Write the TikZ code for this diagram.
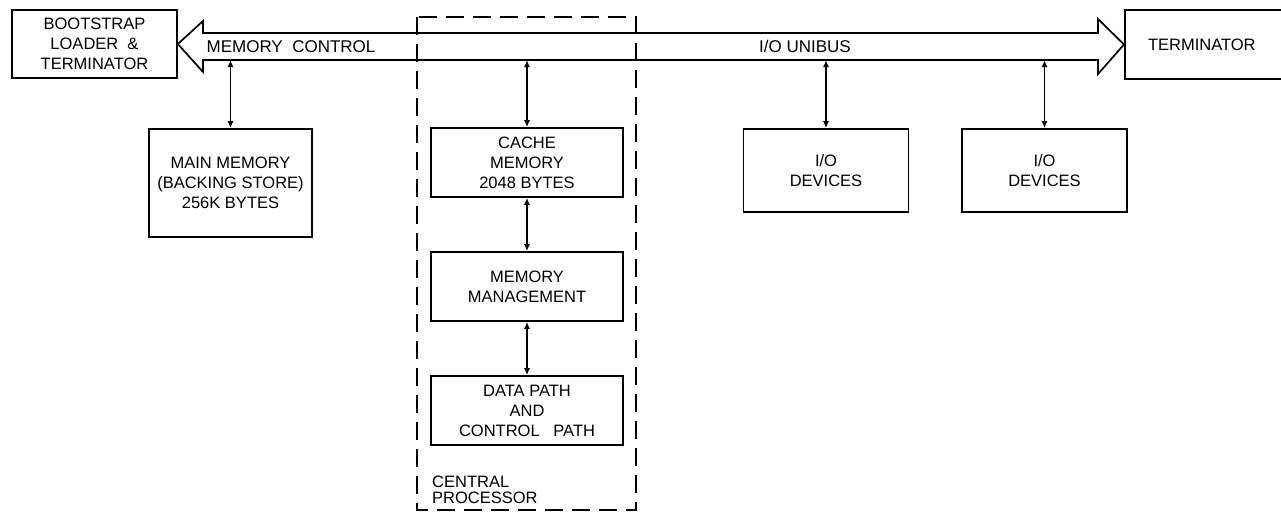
\documentclass[tikz,border=0pt]{standalone}
\usepackage{fontspec}
\setmainfont{Liberation Sans}
\usetikzlibrary{positioning, arrows.meta}

\begin{document}
\begin{tikzpicture}[
        x=1pt, y=-1pt,
        line width=1.7pt,
        node distance=124pt,
        on grid,
        >={Latex[length=7pt, width=6pt]},
        unit/.style={draw, align=center, inner sep=2pt,
          font=\fontsize{16.5}{20}\selectfont},
        cpubox/.style={unit, minimum width=192pt, minimum height=69pt},
        iobox/.style={unit, minimum width=165pt, minimum height=83pt},
        buslabel/.style={font=\fontsize{17}{19}\selectfont},
        link/.style={<->, line width=1.7pt},
      ]

      \useasboundingbox (0,0) rectangle (1281,512);

      % end units of the bus
      \node[unit, minimum width=165pt, minimum height=68pt] (boot) at (94.5,44)
        {BOOTSTRAP\\LOADER~~\&\\TERMINATOR};
      \node[unit, minimum width=170pt, minimum height=69pt, anchor=west] (term) at (1124,44.5)
        {\hspace*{-8pt}TERMINATOR\hspace*{8pt}};

      % the bus itself
      \coordinate (bustop) at (203,33);
      \coordinate (busbot) at (203,60);
      \draw (boot.east) -- (203,21) -- (bustop) -- (1098,33) -- (1098,19)
        -- (term.west) -- (1098,74) -- (1098,60) -- (busbot) -- (203,72) -- cycle;
      \node[buslabel] (memctl) at (291,47) {MEMORY~~CONTROL};
      \node[buslabel] (unibus) at (805,46) {I/O~UNIBUS};

      % memory
      \node[unit, minimum width=163pt, minimum height=108pt] (mainmem) at (230.5,183)
        {MAIN~MEMORY\\(BACKING STORE)\\256K BYTES};

      % central processor
      \node[cpubox] (cache) at (527,162.5) {CACHE\\MEMORY\\2048~BYTES};
      \node[cpubox, below=of cache] (mmu) {MEMORY\\MANAGEMENT};
      \node[cpubox, below=of mmu] (dpath) {DATA PATH\\AND\\CONTROL~~~PATH};
      \draw[dashed, dash pattern=on 18pt off 9pt] (417,17) rectangle (636,510);
      \node[anchor=west, align=left, font=\fontsize{16.5}{16}\selectfont] (cpu) at (428,490)
        {CENTRAL\\PROCESSOR};

      % peripherals
      \node[iobox] (io1) at (826,170.5) {I/O\\DEVICES};
      \node[iobox] (io2) at (1044.5,170.5) {I/O\\DEVICES};

      \draw[link] (mainmem.north |- busbot) -- (mainmem.north);
      \draw[link] (cache.north |- busbot) -- (cache.north);
      \draw[link] (cache) -- (mmu);
      \draw[link] (mmu) -- (dpath);
      \draw[link] (io1.north |- busbot) -- (io1.north);
      \draw[link] (io2.north |- busbot) -- (io2.north);

    \end{tikzpicture}
\end{document}
